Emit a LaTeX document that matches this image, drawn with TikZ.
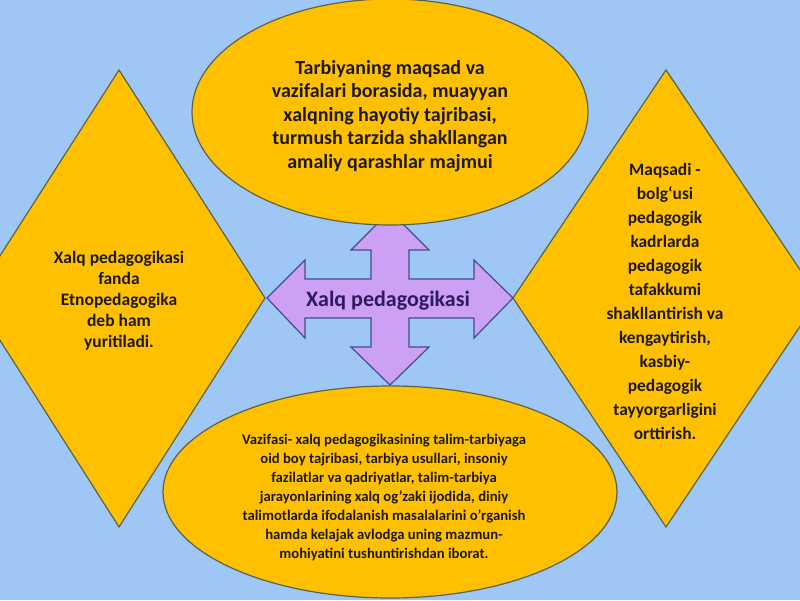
\documentclass[tikz,border=0pt]{standalone}
\usepackage{fontspec}
\setmainfont{Carlito}
\definecolor{bgblue}{RGB}{158,199,245}
\definecolor{gold}{RGB}{255,192,0}
\definecolor{edge}{RGB}{90,100,70}
\definecolor{lav}{RGB}{204,160,245}
\definecolor{lavedge}{RGB}{70,75,140}
\definecolor{txt}{RGB}{30,25,20}
\definecolor{ctxt}{RGB}{46,26,92}
\tikzset{
  shapebox/.style={fill=gold,draw=edge,line width=1.2pt},
  arrowbox/.style={fill=lav,draw=lavedge,line width=1.2pt,line join=miter},
  lbl/.style={align=center,text=txt,inner sep=0pt,font=\bfseries},
}
\begin{document}
\begin{tikzpicture}[x=1pt,y=-1pt]
\useasboundingbox (0,0) rectangle (800,600);
\clip (0,0) rectangle (800,600);
\fill[bgblue] (0,0) rectangle (800,600);
% left and right diamonds
\draw[shapebox] (119,70) -- (265,298) -- (119,527) -- (-27,298) -- cycle;
\draw[shapebox] (666,70) -- (819,298) -- (666,527) -- (513,298) -- cycle;
% quad arrow
\draw[arrowbox] (390,211) -- (429,250) -- (409,250) -- (409,279) -- (474,279) -- (474,260)
  -- (513,298) -- (474,338) -- (474,318) -- (409,318) -- (409,347) -- (429,347)
  -- (390,385) -- (351,347) -- (371,347) -- (371,318) -- (305,318) -- (305,338)
  -- (267,298) -- (305,260) -- (305,279) -- (371,279) -- (371,250) -- (351,250) -- cycle;
% ellipses
\draw[shapebox] (390,112) ellipse[x radius=198,y radius=-113];
\draw[shapebox] (390,492) ellipse[x radius=227,y radius=-106];
% texts
\node[lbl,font=\bfseries\fontsize{20}{23.5}\selectfont] (top) at (390,116)
  {Tarbiyaning maqsad va\\vazifalari borasida, muayyan\\xalqning hayotiy tajribasi,\\turmush tarzida shakllangan\\amaliy qarashlar majmui};
\node[lbl,font=\bfseries\fontsize{17.5}{21}\selectfont] (left) at (119,301)
  {Xalq pedagogikasi\\fanda\\Etnopedagogika\\deb ham\\yuritiladi.};
\node[lbl,font=\bfseries\fontsize{17.4}{24}\selectfont] (right) at (665,301)
  {Maqsadi -\\bolg‘usi\\pedagogik\\kadrlarda\\pedagogik\\tafakkumi\\shakllantirish va\\kengaytirish,\\kasbiy-\\pedagogik\\tayyorgarligini\\orttirish.};
\node[lbl,font=\bfseries\fontsize{14.7}{19}\selectfont] (bottom) at (384,497)
  {Vazifasi- xalq pedagogikasining talim-tarbiyaga\\oid boy tajribasi, tarbiya usullari, insoniy\\fazilatlar va qadriyatlar, talim-tarbiya\\jarayonlarining xalq og'zaki ijodida, diniy\\talimotlarda ifodalanish masalalarini o'rganish\\hamda kelajak avlodga uning mazmun-\\mohiyatini tushuntirishdan iborat.};
\node[lbl,text=ctxt,font=\bfseries\fontsize{22}{26}\selectfont] (center) at (388,301) {Xalq pedagogikasi};
\end{tikzpicture}
\end{document}
